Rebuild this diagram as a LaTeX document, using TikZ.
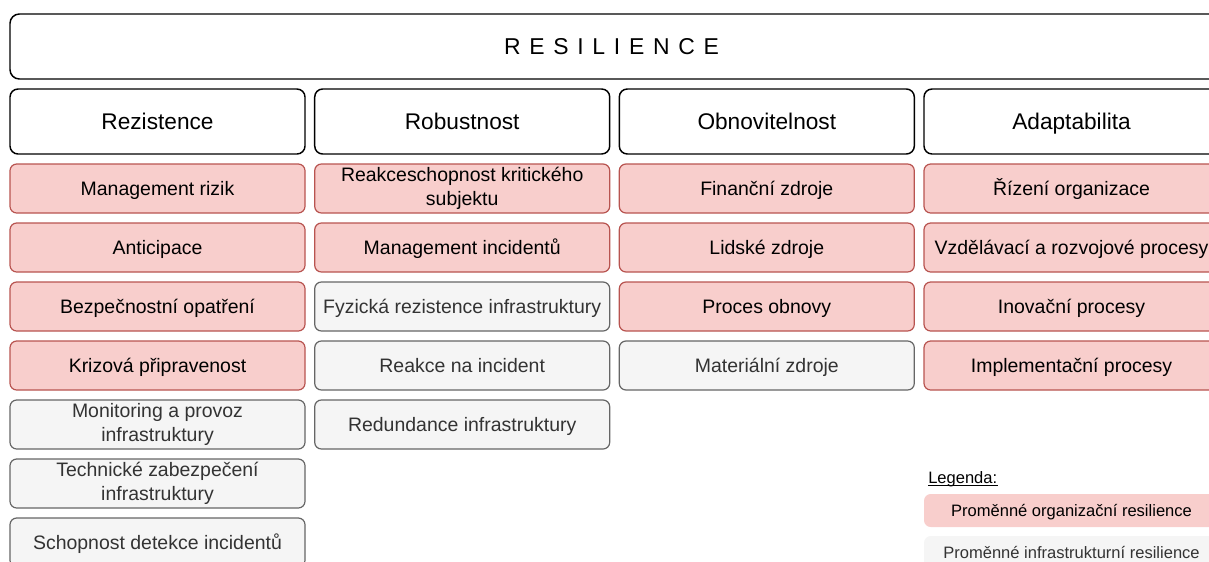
\documentclass[tikz,border=0pt]{standalone}
\usepackage{fontspec}
\setmainfont{Liberation Sans}
\usepackage{xcolor}
\definecolor{redfill}{HTML}{F8CECC}
\definecolor{redline}{HTML}{B85450}
\definecolor{grayfill}{HTML}{F5F5F5}
\definecolor{grayline}{HTML}{666666}
\definecolor{graytext}{HTML}{333333}

\begin{document}
\begin{tikzpicture}[x=0.75pt,y=-0.75pt,
  oneline/.style={text height=0.9*#1, text depth=0.21*#1},
  twoline/.style={text height={}, text depth={}},
  mainbox/.style={draw=black, line width=1.1pt, rounded corners=7pt, fill=white,
    minimum width=906.75pt, minimum height=48.75pt, inner sep=0pt, oneline=17.2pt,
    font=\fontsize{17.2}{20}\selectfont\addfontfeature{LetterSpace=38}},
  header/.style={draw=black, line width=1.1pt, rounded corners=6pt, fill=white,
    minimum width=221.25pt, minimum height=48.75pt, inner sep=0pt, oneline=17pt,
    font=\fontsize{17}{20}\selectfont},
  varbox/.style={line width=0.9pt, rounded corners=5pt, align=center,
    minimum width=221.25pt, minimum height=36.75pt, inner sep=0pt, oneline=14.6pt,
    font=\fontsize{14.6}{18.5}\selectfont},
  orgvar/.style={varbox, draw=redline, fill=redfill},
  infvar/.style={varbox, draw=grayline, fill=grayfill, text=graytext},
  orgtwo/.style={orgvar, twoline},
  inftwo/.style={infvar, twoline},
  legbox/.style={minimum width=221.25pt, minimum height=24.75pt, inner sep=0pt,
    rounded corners=5pt, oneline=12.4pt, font=\fontsize{12.4}{15}\selectfont}]
\useasboundingbox (0,0) rectangle (1209,561);
\clip (0,0) rectangle (1209,561);

% TOP
  \node[mainbox] (resilience) at (614.5,46.5) {RESILIENCE\kern4.5pt};

% HEADERS
  \node[header] (rezistence)     at (157.5,121.5)  {Rezistence};
  \node[header] (robustnost)     at (462.2,121.5)  {Robustnost};
  \node[header] (obnovitelnost)  at (766.8,121.5)  {Obnovitelnost};
  \node[header] (adaptabilita)   at (1071.5,121.5) {Adaptabilita};

% Rezistence variables
  \foreach \sty/\txt [count=\r] in {orgvar/Management rizik, orgvar/Anticipace,
      orgvar/Bezpečnostní opatření, orgvar/Krizová připravenost,
      inftwo/{Monitoring a provoz\\infrastruktury},
      inftwo/{Technické zabezpečení\\infrastruktury},
      infvar/Schopnost detekce incidentů}
    \node[\sty] (rez-\r) at ({157.5},{188.5+59*(\r-1)}) {\txt};

% Robustnost variables
  \foreach \sty/\txt [count=\r] in {orgtwo/{Reakceschopnost kritického\\subjektu},
      orgvar/Management incidentů, infvar/Fyzická rezistence infrastruktury,
      infvar/Reakce na incident, infvar/Redundance infrastruktury}
    \node[\sty] (rob-\r) at ({462.2},{188.5+59*(\r-1)}) {\txt};

% Obnovitelnost variables
  \foreach \sty/\txt [count=\r] in {orgvar/Finanční zdroje, orgvar/Lidské zdroje,
      orgvar/Proces obnovy, infvar/Materiální zdroje}
    \node[\sty] (obn-\r) at ({766.8},{188.5+59*(\r-1)}) {\txt};

% Adaptabilita variables
  \foreach \sty/\txt [count=\r] in {orgvar/Řízení organizace,
      orgvar/Vzdělávací a rozvojové procesy, orgvar/Inovační procesy,
      orgvar/Implementační procesy}
    \node[\sty] (ada-\r) at ({1071.5},{188.5+59*(\r-1)}) {\txt};

% LEGEND
  \node[anchor=base west, inner sep=0pt, font=\fontsize{12.4}{15}\selectfont]
    (legenda) at (928,483.5) {Legenda:};
  \draw[line width=0.75pt] ([yshift=-1.3pt]legenda.base west) -- ([yshift=-1.3pt]legenda.base east);
  \node[legbox, fill=redfill] (leg-org) at (1071.5,510.5) {Proměnné organizační resilience};
  \node[legbox, fill=grayfill, text=graytext] (leg-inf) at (1071.5,552.5) {Proměnné infrastrukturní resilience};

\end{tikzpicture}
\end{document}
